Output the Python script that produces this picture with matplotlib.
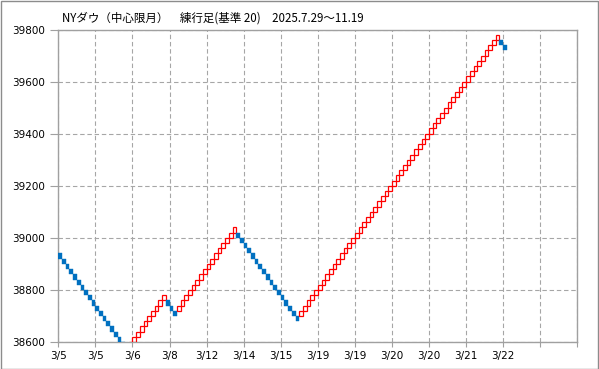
import matplotlib
matplotlib.use('Agg')
from matplotlib import pyplot as plt
from matplotlib.patches import Rectangle

# renko bricks (box size 20), each leg is a run of bricks in one direction
# values are the lower edge of each brick, left to right
leg_dirs = ['down', 'up', 'down', 'up', 'down', 'up', 'down']
leg1_lows = [38920, 38900, 38880, 38860, 38840, 38820, 38800, 38780, 38760, 38740,
             38720, 38700, 38680, 38660, 38640, 38620, 38600, 38580, 38560]
leg2_lows = [38580, 38600, 38620, 38640, 38660, 38680, 38700, 38720, 38740, 38760]
leg3_lows = [38740, 38720, 38700]
leg4_lows = [38720, 38740, 38760, 38780, 38800, 38820, 38840, 38860, 38880, 38900,
             38920, 38940, 38960, 38980, 39000, 39020]
leg5_lows = [39000, 38980, 38960, 38940, 38920, 38900, 38880, 38860, 38840, 38820,
             38800, 38780, 38760, 38740, 38720, 38700, 38680]
leg6_lows = [38700, 38720, 38740, 38760, 38780, 38800, 38820, 38840, 38860, 38880,
             38900, 38920, 38940, 38960, 38980, 39000, 39020, 39040, 39060, 39080,
             39100, 39120, 39140, 39160, 39180, 39200, 39220, 39240, 39260, 39280,
             39300, 39320, 39340, 39360, 39380, 39400, 39420, 39440, 39460, 39480,
             39500, 39520, 39540, 39560, 39580, 39600, 39620, 39640, 39660, 39680,
             39700, 39720, 39740, 39760]
leg7_lows = [39740, 39720]
legs = [leg1_lows, leg2_lows, leg3_lows, leg4_lows, leg5_lows, leg6_lows, leg7_lows]

box_size = 20
y_ticks = [38600, 38800, 39000, 39200, 39400, 39600, 39800]
x_tick_labels = ['3/5', '3/5', '3/6', '3/8', '3/12', '3/14', '3/15', '3/19',
                 '3/19', '3/20', '3/20', '3/21', '3/22', '', '']
title = 'NYダウ（中心限月）　練行足(基準 20)　2025.7.29～11.19'

fig = plt.figure(figsize=(5.99, 3.69), dpi=100)
ax = fig.add_axes([58.3 / 599, 27 / 369, 519 / 599, 312.5 / 369])

i = 0
for d, lows in zip(leg_dirs, legs):
    for low in lows:
        if d == 'up':
            r = Rectangle((i, low), 1, box_size, facecolor='none', edgecolor='#ff0000', lw=0.9, zorder=3)
        else:
            r = Rectangle((i, low), 1, box_size, facecolor='#0070c0', edgecolor='#0070c0', lw=0.3, zorder=3)
        ax.add_patch(r)
        i += 1

ax.set_xlim(0, 140)
ax.set_ylim(38600, 39800)
ax.set_xticks(range(0, 141, 10))
ax.set_xticklabels(x_tick_labels)
ax.set_yticks(y_ticks)
ax.set_yticklabels([str(v) for v in y_ticks])
ax.grid(True, color='#a6a6a6', linestyle=(0, (4, 2.5)), linewidth=0.8)
ax.set_axisbelow(True)
for s in ax.spines.values():
    s.set_color('#a0a0a0')
    s.set_linewidth(1.0)
ax.tick_params(axis='y', length=6, width=0.8, color='#a0a0a0', pad=3.5, labelsize=7.5)
ax.tick_params(axis='x', length=3.6, width=0.8, color='#a0a0a0', pad=3, labelsize=7.5)

fig.text(62 / 599, 1 - 18 / 369, title, fontsize=8.3, va='center', ha='left',
         family=['Noto Sans CJK JP', 'DejaVu Sans'])
fig.patches.append(Rectangle((0.5 / 599, 0.5 / 369), 1 - 1.5 / 599, 1 - 1.5 / 369,
                             transform=fig.transFigure, fill=False, edgecolor='#8c8c8c', lw=1.0))

fig.savefig('out.png', dpi=100)
